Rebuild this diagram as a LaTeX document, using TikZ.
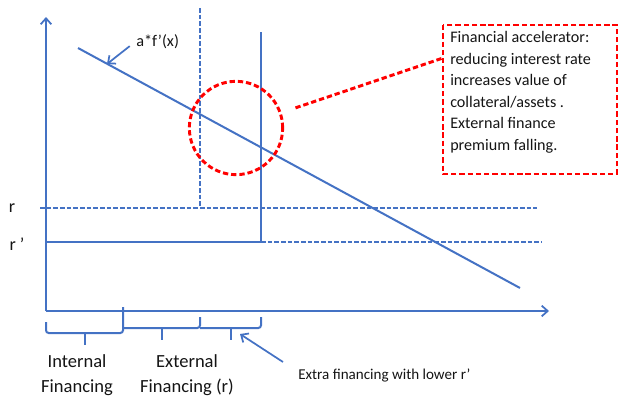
\documentclass[tikz,border=0pt]{standalone}
\usepackage{fontspec}
\setmainfont{Carlito}
\usetikzlibrary{arrows.meta}
\definecolor{bl}{RGB}{68,114,196}
\definecolor{tx}{RGB}{20,20,20}
\begin{document}
\begin{tikzpicture}[x=0.75pt,y=-0.75pt,
  bline/.style={draw=bl, line width=1.5pt},
  bdash/.style={draw=bl, line width=1.3pt, dash pattern=on 3.5pt off 1.5pt},
  rdash/.style={draw=red, line width=2.2pt, dash pattern=on 4pt off 2.2pt},
  barb/.style={-{Straight Barb[length=4.5pt,width=8pt,line width=1.3pt]}},
  brc/.style={draw=bl, line width=1.5pt, rounded corners=2pt},
  lbl/.style={text=tx, inner sep=0pt},
  big/.style={font=\fontsize{13.9}{18.75}\selectfont},
  mid/.style={font=\fontsize{11.3}{16.2}\selectfont},
  boxt/.style={font=\fontsize{12.1}{16.2}\selectfont},
]
\useasboundingbox (0,0) rectangle (618,396);

% axes
\coordinate (O) at (46,311);
\coordinate (ytop) at (46,17);
\coordinate (xend) at (549,311);
\draw[bline, barb] (O) -- (ytop);
\draw[bline, barb] (O) -- (xend);

% demand curve
\coordinate (d1) at (78,48);
\coordinate (d2) at (520,288);
\draw[bline] (d1) -- (d2);
\node[lbl, font=\fontsize{12.2}{14}\selectfont, anchor=base west] (af) at (136,46) {a*f’(x)};
\coordinate (fx) at (107,64);
\draw[draw=bl, line width=1.3pt, barb, shorten <=6pt] (af.west) -- (fx);

% r levels
\coordinate (r0) at (40,208);
\coordinate (r1) at (537,208);
\draw[bdash] (r0) -- (r1);
\coordinate (rp0) at (46,242);
\coordinate (rp1) at (261,242);
\coordinate (rp2) at (542,242);
\draw[bline] (rp0) -- (rp1);
\draw[bdash] (rp1) -- (rp2);
\node[lbl, font=\fontsize{13.5}{16}\selectfont] (rl) at (12,208) {r};
\node[lbl, font=\fontsize{13.5}{16}\selectfont] (rpl) at (17,244) {r ʼ};

% verticals
\coordinate (v1t) at (200,8);
\coordinate (v1b) at (200,208);
\draw[bdash] (v1t) -- (v1b);
\coordinate (v2t) at (261,32);
\draw[bline] (v2t) -- (rp1);

% red circle and box
\node[rdash, circle, minimum size=70pt, inner sep=0pt] (circ) at (236,128) {};
\node[lbl, boxt, anchor=north west, align=left] (txt) at (450,31)
 {Financial accelerator:\\reducing interest rate\\increases value of\\collateral/assets .\\External finance\\premium falling.};
\coordinate (bx1) at (443,25);
\coordinate (bx2) at (617,174);
\draw[rdash] (bx1) rectangle (bx2);
\coordinate (bxc) at (443,58);
\draw[rdash, shorten <=11pt] (circ) -- (bxc);

% braces
\draw[brc] (46,322) -- (46,333) -- (123,333) -- (123,307);
\draw[brc] (85,333) -- (85,345);
\draw[brc] (123,328) -- (200,328) -- (200,317);
\draw[brc] (162,328) -- (162,340);
\draw[brc] (200,328) -- (261,328) -- (261,317);
\draw[brc] (231,328) -- (231,340);

% bottom labels
\node[lbl, big, align=center, anchor=north] (intl) at (77,354) {Internal\\Financing};
\node[lbl, big, align=center, anchor=north] (extl) at (187,354) {External\\Financing (r)};
\node[lbl, mid, anchor=base west] (extra) at (298,379) {Extra financing with lower r’};
\coordinate (ea) at (283,362);
\coordinate (et) at (240,334);
\draw[draw=bl, line width=1.3pt, barb] (ea) -- (et);
\end{tikzpicture}
\end{document}
